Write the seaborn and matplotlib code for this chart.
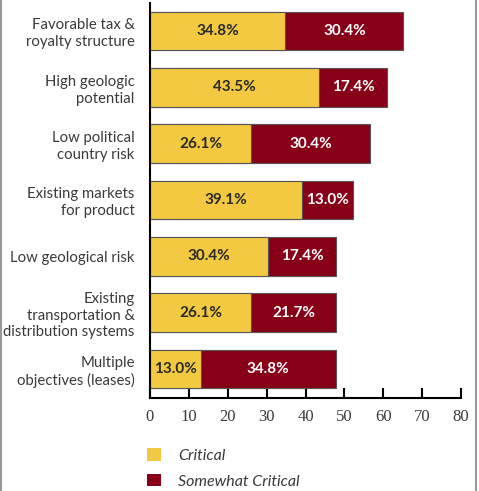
import matplotlib
matplotlib.use("Agg")
import matplotlib.pyplot as plt
from matplotlib.patches import Patch
from matplotlib.lines import Line2D
import seaborn as sns
import pandas as pd

# Survey factors and the share of respondents rating each one
factors = [
    "Favorable tax &\nroyalty structure",
    "High geologic\npotential",
    "Low political\ncountry risk",
    "Existing markets\nfor product",
    "Low geological risk",
    "Existing\ntransportation &\ndistribution systems",
    "Multiple\nobjectives (leases)",
]
critical = [34.8, 43.5, 26.1, 39.1, 30.4, 26.1, 13.0]
somewhat_critical = [30.4, 17.4, 30.4, 13.0, 17.4, 21.7, 34.8]
x_ticks = [0, 10, 20, 30, 40, 50, 60, 70, 80]
legend_labels = ["Critical", "Somewhat Critical"]

yellow = "#F2C940"
red = "#880018"
text_grey = "#3a3a3a"

sns.set_style("white")
plt.rcParams["font.family"] = ["Lato", "DejaVu Sans"]

df = pd.DataFrame({
    "factor": factors,
    "critical": critical,
    "somewhat": somewhat_critical,
})
df["total"] = df["critical"] + df["somewhat"]

fig = plt.figure(figsize=(4.79, 4.91), dpi=100)
ax = fig.add_axes([150 / 479, 1 - 398 / 491, 311 / 479, 395 / 491])

# Stacked bars: full total in red, critical share laid over it in yellow
sns.barplot(data=df, x="total", y="factor", orient="h", color=red,
            saturation=1, width=0.69, edgecolor="#555555", linewidth=0.8,
            ax=ax)
sns.barplot(data=df, x="critical", y="factor", orient="h", color=yellow,
            saturation=1, width=0.69, edgecolor="#555555", linewidth=0.8,
            ax=ax)

for i, row in df.iterrows():
    ax.text(row["critical"] / 2, i, f"{row['critical']:.1f}%",
            ha="center", va="center", fontsize=11, fontweight="bold",
            color="#2a2a2a")
    ax.text(row["critical"] + row["somewhat"] / 2, i, f"{row['somewhat']:.1f}%",
            ha="center", va="center", fontsize=11, fontweight="bold",
            color="white")

ax.set_xlim(0, 80)
ax.set_ylim(6.515, -0.497)
ax.set_xticks(x_ticks)
ax.set_xticklabels([str(t) for t in x_ticks], family="Liberation Serif",
                   fontsize=12, color=text_grey)
ax.set_xlabel("")
ax.set_ylabel("")
ax.tick_params(axis="x", direction="in", length=7, width=1.5, color="black",
               pad=8, bottom=True)
ax.tick_params(axis="y", length=0, pad=11)
for lbl in ax.get_yticklabels():
    lbl.set_fontsize(10.7)
    lbl.set_color(text_grey)
    lbl.set_linespacing(1.25)
    lbl.set_horizontalalignment("right")
    lbl.set_multialignment("right")

for side in ["top", "right"]:
    ax.spines[side].set_visible(False)
for side in ["left", "bottom"]:
    ax.spines[side].set_color("black")
    ax.spines[side].set_linewidth(1.5)
ax.grid(False)

handles = [Patch(facecolor=yellow, edgecolor="none"),
           Patch(facecolor=red, edgecolor="none")]
leg = fig.legend(handles, legend_labels, loc="upper left",
                 bbox_to_anchor=(133 / 479, 1 - 434 / 491), frameon=False,
                 prop={"style": "italic", "size": 11.5},
                 handlelength=0.85, handleheight=0.8, handletextpad=1.05,
                 labelspacing=0.7)
for t in leg.get_texts():
    t.set_color(text_grey)

# thin grey side frame
fig.add_artist(Line2D([0.8 / 479, 0.8 / 479], [0, 1], color="#999999",
                      linewidth=1.5, transform=fig.transFigure))
fig.add_artist(Line2D([476 / 479, 476 / 479], [0, 1], color="#999999",
                      linewidth=1.5, transform=fig.transFigure))

fig.savefig("out.png", dpi=100, facecolor="white")
